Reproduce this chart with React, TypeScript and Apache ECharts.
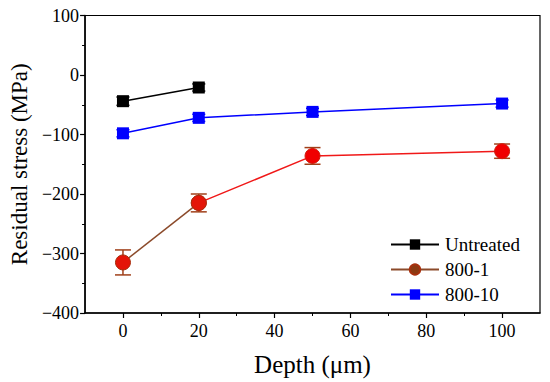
import React, { useEffect, useRef } from "react";
import * as echarts from "echarts";

const depthsUntreated = [0, 20];
const untreated = [-44, -21];
const untreatedErr = [7, 6];

const depths = [0, 20, 50, 100];
const s800_1 = [-315, -215, -136, -128];
const s800_1Err = [21, 15, 14, 12];
const s800_10 = [-98, -72, -62, -48];
const s800_10Err = [6, 6, 6, 6];

const xLabels = [0, 20, 40, 60, 80, 100];
const xMinor = [10, 30, 50, 70, 90];

const FONT = "Liberation Serif";

function errorSeries(name: string, xs: number[], ys: number[], es: number[], color: string, cap: number) {
  return {
    type: "custom",
    name: name + "-err",
    z: 1,
    data: xs.map((x, i) => [x, ys[i] - es[i], ys[i] + es[i]]),
    renderItem: (params: any, api: any) => {
      const x = api.value(0);
      const lo = api.coord([x, api.value(1)]);
      const hi = api.coord([x, api.value(2)]);
      const st = { stroke: color, lineWidth: 1.5 };
      return {
        type: "group",
        children: [
          { type: "line", shape: { x1: lo[0], y1: lo[1], x2: hi[0], y2: hi[1] }, style: st },
          { type: "line", shape: { x1: lo[0] - cap / 2, y1: lo[1], x2: lo[0] + cap / 2, y2: lo[1] }, style: st },
          { type: "line", shape: { x1: hi[0] - cap / 2, y1: hi[1], x2: hi[0] + cap / 2, y2: hi[1] }, style: st },
        ],
      };
    },
  };
}

export default function App() {
  const ref = useRef<HTMLDivElement>(null);
  useEffect(() => {
    const chart = echarts.init(ref.current!, null, { renderer: "svg" });
    chart.setOption({
      animation: false,
      backgroundColor: "#fff",
      textStyle: { fontFamily: FONT },
      grid: { left: 84, right: 10, top: 15.5, bottom: 61, show: true, borderColor: "#000", borderWidth: 1.2 },
      legend: {
        orient: "vertical",
        left: 385,
        top: 230,
        itemWidth: 48,
        itemHeight: 13,
        itemGap: 6,
        data: [
          { name: "Untreated" },
          { name: "800-1", itemStyle: { color: "#8b3a12" } },
          { name: "800-10" },
        ],
        textStyle: { fontFamily: FONT, fontSize: 19, color: "#000", padding: [0, 0, 0, 1] },
      },
      xAxis: [
        {
          type: "value",
          min: -10,
          max: 110,
          name: "Depth (μm)",
          nameLocation: "middle",
          nameGap: 39,
          nameTextStyle: { fontFamily: FONT, fontSize: 25, color: "#000" },
          axisLine: { show: true, onZero: false, lineStyle: { color: "#000", width: 1.5 } },
          axisTick: { show: true, inside: false, length: 5, customValues: xLabels, lineStyle: { color: "#000", width: 1.2 } },
          axisLabel: { customValues: xLabels, margin: 9, fontFamily: FONT, fontSize: 18, color: "#000" },
          splitLine: { show: false },
        },
        {
          type: "value",
          min: -10,
          max: 110,
          position: "bottom",
          axisLine: { show: false, onZero: false },
          axisTick: { show: true, inside: false, length: 3, customValues: xMinor, lineStyle: { color: "#000", width: 1 } },
          axisLabel: { show: false },
          splitLine: { show: false },
        },
      ],
      yAxis: {
        type: "value",
        min: -400,
        max: 100,
        interval: 100,
        name: "Residual stress (MPa)",
        nameLocation: "middle",
        nameGap: 52,
        nameTextStyle: { fontFamily: FONT, fontSize: 23, color: "#000" },
        axisLine: { show: true, onZero: false, lineStyle: { color: "#000", width: 1.5 } },
        axisTick: { show: true, inside: false, length: 5, lineStyle: { color: "#000", width: 1.2 } },
        minorTick: { show: true, splitNumber: 2, length: 3, lineStyle: { color: "#000", width: 1 } },
        axisLabel: {
          margin: 6,
          fontFamily: FONT,
          fontSize: 18,
          color: "#000",
          formatter: (v: number) => (v < 0 ? "\u2212" + Math.abs(v) : String(v)),
        },
        splitLine: { show: false },
      },
      series: [
        errorSeries("Untreated", depthsUntreated, untreated, untreatedErr, "#000", 13),
        errorSeries("800-1", depths, s800_1, s800_1Err, "#a0401a", 16),
        errorSeries("800-10", depths, s800_10, s800_10Err, "#0000ff", 13),
        {
          type: "line",
          name: "Untreated",
          z: 3,
          data: depthsUntreated.map((x, i) => [x, untreated[i]]),
          symbol: "rect",
          symbolSize: 12,
          color: "#000",
          lineStyle: { color: "#000", width: 1.5 },
          itemStyle: { color: "#000" },
        },
        {
          type: "line",
          name: "800-1 tail",
          z: 3,
          data: depths.slice(1).map((x, i) => [x, s800_1[i + 1]]),
          symbol: "circle",
          symbolSize: 15,
          lineStyle: { color: "#f01818", width: 1.5 },
          itemStyle: { color: "#f00000", borderColor: "#d02010", borderWidth: 1 },
        },
        {
          type: "line",
          name: "800-1",
          z: 4,
          data: depths.slice(0, 2).map((x, i) => [x, s800_1[i]]),
          symbol: "circle",
          symbolSize: 15,
          lineStyle: { color: "#8b4a2a", width: 1.5 },
          itemStyle: { color: "#e41508", borderColor: "#a8300e", borderWidth: 1 },
        },
        {
          type: "line",
          name: "800-10",
          z: 3,
          data: depths.map((x, i) => [x, s800_10[i]]),
          symbol: "rect",
          symbolSize: 12,
          color: "#0000ff",
          lineStyle: { color: "#0000ff", width: 1.5 },
          itemStyle: { color: "#0000ff" },
        },
      ],
    });
    return () => chart.dispose();
  }, []);
  return <div ref={ref} style={{ width: 550, height: 382, position: "absolute", left: 0, top: 0 }} />;
}
